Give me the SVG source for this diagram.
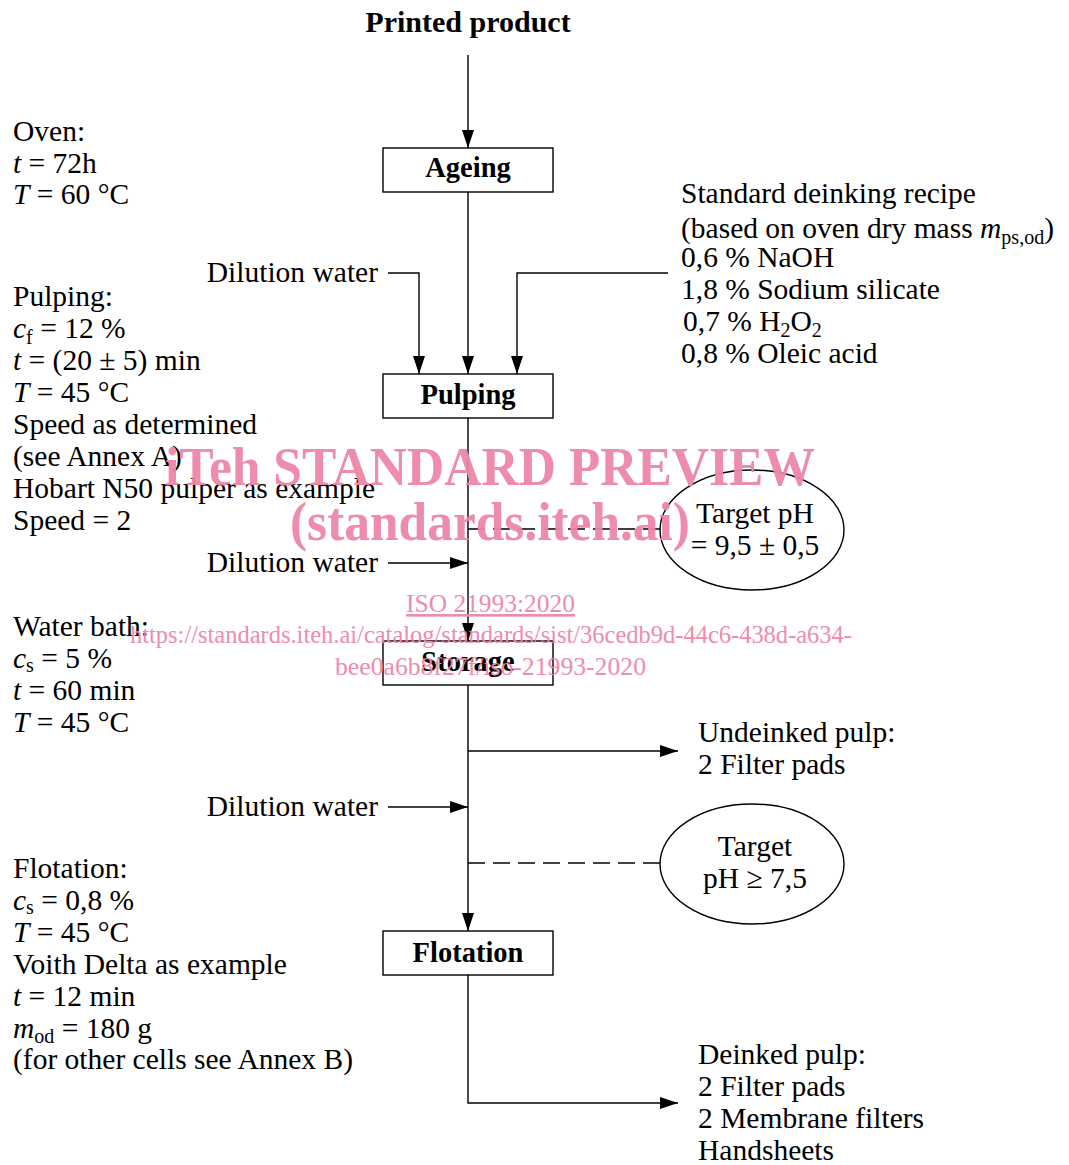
<svg xmlns="http://www.w3.org/2000/svg" width="1069" height="1165" viewBox="0 0 1069 1165">
<style>
text{font-family:"Liberation Serif","DejaVu Serif",serif;font-size:29.5px;fill:#000}
.b{font-weight:bold;font-size:28.5px}
.i{font-style:italic}
.sub{font-size:20px}
.box{fill:#fff;stroke:#000;stroke-width:1.4}
.ell{fill:none;stroke:#000;stroke-width:1.4}
.ln{fill:none;stroke:#000;stroke-width:1.4}
.dash{stroke-dasharray:17 8}
.wm{fill:#ee86a8;font-family:"Liberation Serif","DejaVu Serif",serif}
</style>
<defs>
<marker id="arr" viewBox="0 0 18 12" refX="18" refY="6" markerWidth="18" markerHeight="12" orient="auto" markerUnits="userSpaceOnUse">
<path d="M0,0 L18,6 L0,12 z" fill="#000"/>
</marker>
</defs>
<rect width="1069" height="1165" fill="#fff"/>

<g id="connectors">
<path class="ln" d="M468,55 V148" marker-end="url(#arr)"/>
<path class="ln" d="M468,192 V374" marker-end="url(#arr)"/>
<path class="ln" d="M388,273 H419 V374" marker-end="url(#arr)"/>
<path class="ln" d="M668,273 H517 V374" marker-end="url(#arr)"/>
<path class="ln" d="M468,418 V641" marker-end="url(#arr)"/>
<path class="ln" d="M388,563 H468" marker-end="url(#arr)"/>
<path class="ln dash" d="M468,529 H660"/>
<path class="ln" d="M468,685 V931" marker-end="url(#arr)"/>
<path class="ln" d="M468,751 H678" marker-end="url(#arr)"/>
<path class="ln" d="M388,807 H468" marker-end="url(#arr)"/>
<path class="ln dash" d="M468,863 H660"/>
<path class="ln" d="M468,975 V1103 H678" marker-end="url(#arr)"/>
</g>

<g id="printed-product"><text class="b" x="468" y="32" text-anchor="middle" style="font-size:30px">Printed product</text></g>

<g id="ageing"><rect class="box" x="383" y="148" width="170" height="44"/><text class="b" x="468" y="177" text-anchor="middle">Ageing</text></g>
<g id="pulping"><rect class="box" x="383" y="374" width="170" height="44"/><text class="b" x="468" y="404" text-anchor="middle">Pulping</text></g>
<g id="storage"><rect class="box" x="383" y="641" width="170" height="44"/><text class="b" x="468" y="671" text-anchor="middle">Storage</text></g>
<g id="flotation"><rect class="box" x="383" y="931" width="170" height="44"/><text class="b" x="468" y="962" text-anchor="middle">Flotation</text></g>

<g id="target-ph-1"><ellipse class="ell" cx="752" cy="530" rx="92" ry="60"/>
<text x="755" y="523" text-anchor="middle">Target pH</text>
<text x="755" y="555" text-anchor="middle">= 9,5 ± 0,5</text></g>
<g id="target-ph-2"><ellipse class="ell" cx="752" cy="864" rx="92" ry="60"/>
<text x="755" y="856" text-anchor="middle">Target</text>
<text x="755" y="888" text-anchor="middle">pH ≥ 7,5</text></g>

<g id="dilution-1"><text x="378" y="282" text-anchor="end">Dilution water</text></g>
<g id="dilution-2"><text x="378" y="572" text-anchor="end">Dilution water</text></g>
<g id="dilution-3"><text x="378" y="816" text-anchor="end">Dilution water</text></g>

<g id="recipe">
<text x="681" y="203">Standard deinking recipe</text>
<text x="681" y="238">(based on oven dry mass <tspan class="i">m</tspan><tspan class="sub" dy="6">ps,od</tspan><tspan dy="-6">)</tspan></text>
<text x="681" y="267">0,6 % NaOH</text>
<text x="681" y="299">1,8 % Sodium silicate</text>
<text x="683" y="331">0,7 % H<tspan class="sub" dy="6">2</tspan><tspan dy="-6">O</tspan><tspan class="sub" dy="6">2</tspan></text>
<text x="681" y="363">0,8 % Oleic acid</text>
</g>

<g id="undeinked"><text x="698" y="742">Undeinked pulp:</text><text x="698" y="774">2 Filter pads</text></g>
<g id="deinked">
<text x="698" y="1064">Deinked pulp:</text>
<text x="698" y="1096">2 Filter pads</text>
<text x="698" y="1128">2 Membrane filters</text>
<text x="698" y="1160">Handsheets</text>
</g>

<g id="oven-notes">
<text x="13" y="141">Oven:</text>
<text x="13" y="173"><tspan class="i">t</tspan> = 72h</text>
<text x="13" y="204"><tspan class="i">T</tspan> = 60 °C</text>
</g>
<g id="pulping-notes">
<text x="13" y="306">Pulping:</text>
<text x="13" y="338"><tspan class="i">c</tspan><tspan class="sub" dy="6">f</tspan><tspan dy="-6"> = 12 %</tspan></text>
<text x="13" y="370"><tspan class="i">t</tspan> = (20 ± 5) min</text>
<text x="13" y="402"><tspan class="i">T</tspan> = 45 °C</text>
<text x="13" y="434">Speed as determined</text>
<text x="13" y="466">(see Annex A)</text>
<text x="13" y="498">Hobart N50 pulper as example</text>
<text x="13" y="530">Speed = 2</text>
</g>
<g id="waterbath-notes">
<text x="13" y="636">Water bath:</text>
<text x="13" y="668"><tspan class="i">c</tspan><tspan class="sub" dy="4">s</tspan><tspan dy="-4"> = 5 %</tspan></text>
<text x="13" y="700"><tspan class="i">t</tspan> = 60 min</text>
<text x="13" y="732"><tspan class="i">T</tspan> = 45 °C</text>
</g>
<g id="flotation-notes">
<text x="13" y="878">Flotation:</text>
<text x="13" y="910"><tspan class="i">c</tspan><tspan class="sub" dy="4">s</tspan><tspan dy="-4"> = 0,8 %</tspan></text>
<text x="13" y="942"><tspan class="i">T</tspan> = 45 °C</text>
<text x="13" y="974">Voith Delta as example</text>
<text x="13" y="1006"><tspan class="i">t</tspan> = 12 min</text>
<text x="13" y="1038"><tspan class="i">m</tspan><tspan class="sub" dy="5">od</tspan><tspan dy="-5"> = 180 g</tspan></text>
<text x="13" y="1069">(for other cells see Annex B)</text>
</g>

<g id="watermark" opacity="0.95">
<text class="wm" x="165" y="485" style="font-size:54px;font-weight:bold" textLength="650" lengthAdjust="spacingAndGlyphs">iTeh STANDARD PREVIEW</text>
<text class="wm" x="290" y="540" style="font-size:54px;font-weight:bold" textLength="400" lengthAdjust="spacingAndGlyphs">(standards.iteh.ai)</text>
<text class="wm" x="406" y="612" style="font-size:26px;text-decoration:underline" textLength="169" lengthAdjust="spacingAndGlyphs">ISO 21993:2020</text>
<text class="wm" x="130" y="643" style="font-size:26px" textLength="722" lengthAdjust="spacingAndGlyphs">https://standards.iteh.ai/catalog/standards/sist/36cedb9d-44c6-438d-a634-</text>
<text class="wm" x="335" y="675" style="font-size:26px" textLength="311" lengthAdjust="spacingAndGlyphs">bee0a6b8f27f/iso-21993-2020</text>
</g>
</svg>
